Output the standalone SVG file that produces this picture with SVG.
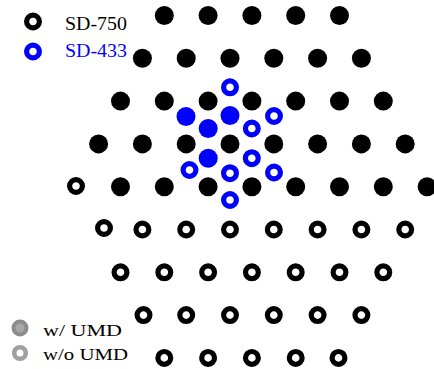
<svg xmlns="http://www.w3.org/2000/svg" width="434" height="369" viewBox="0 0 434 369">
  <style>
    .dot { fill: #000; }
    .ring { fill: none; stroke: #000; stroke-width: 5.2; }
    .bdot { fill: #0000ff; }
    .bring { fill: none; stroke: #0000ff; stroke-width: 5.2; }
    .lbl { font-family: "Liberation Serif", "Times New Roman", serif; }
  </style>
  <defs>
    <circle id="d" r="9.5"/>
    <circle id="o" r="6.4"/>
  </defs>
  <rect width="434" height="369" fill="#fff"/>

  <!-- SD-750 lattice: filled sites -->
  <g id="sd750-filled" class="dot">
    <use href="#d" x="164.3" y="15.5"/><use href="#d" x="208.1" y="15.5"/><use href="#d" x="251.9" y="15.5"/><use href="#d" x="295.7" y="15.5"/><use href="#d" x="339.5" y="15.5"/>
    <use href="#d" x="142.4" y="58.3"/><use href="#d" x="186.2" y="58.3"/><use href="#d" x="230" y="58.3"/><use href="#d" x="273.8" y="58.3"/><use href="#d" x="317.6" y="58.3"/><use href="#d" x="361.4" y="58.3"/>
    <use href="#d" x="120.5" y="101.1"/><use href="#d" x="164.3" y="101.1"/><use href="#d" x="208.1" y="101.1"/><use href="#d" x="251.9" y="101.1"/><use href="#d" x="295.7" y="101.1"/><use href="#d" x="339.5" y="101.1"/><use href="#d" x="383.3" y="101.1"/>
    <use href="#d" x="98.6" y="143.9"/><use href="#d" x="142.4" y="143.9"/><use href="#d" x="186.2" y="143.9"/><use href="#d" x="230" y="143.9"/><use href="#d" x="273.8" y="143.9"/><use href="#d" x="317.6" y="143.9"/><use href="#d" x="361.4" y="143.9"/><use href="#d" x="405.2" y="143.9"/>
    <use href="#d" x="120.5" y="186.7"/><use href="#d" x="164.3" y="186.7"/><use href="#d" x="208.1" y="186.7"/><use href="#d" x="251.9" y="186.7"/><use href="#d" x="295.7" y="186.7"/><use href="#d" x="339.5" y="186.7"/><use href="#d" x="383.3" y="186.7"/><use href="#d" x="427.1" y="186.7"/>
  </g>

  <!-- SD-750 lattice: open sites -->
  <g id="sd750-open" class="ring">
    <use href="#o" x="76" y="186"/>
    <use href="#o" x="104" y="228"/><use href="#o" x="142.4" y="229.5"/><use href="#o" x="186.2" y="229.5"/><use href="#o" x="230" y="229.5"/><use href="#o" x="273.8" y="229.5"/><use href="#o" x="317.6" y="229.5"/><use href="#o" x="361.4" y="229.5"/><use href="#o" x="405.2" y="229.5"/>
    <use href="#o" x="120.5" y="272.3"/><use href="#o" x="164.3" y="272.3"/><use href="#o" x="208.1" y="272.3"/><use href="#o" x="251.9" y="272.3"/><use href="#o" x="295.7" y="272.3"/><use href="#o" x="339.5" y="272.3"/><use href="#o" x="383.3" y="272.3"/>
    <use href="#o" x="143.5" y="315.1"/><use href="#o" x="186.2" y="315.1"/><use href="#o" x="230" y="315.1"/><use href="#o" x="273.8" y="315.1"/><use href="#o" x="317.6" y="315.1"/><use href="#o" x="361.4" y="315.1"/>
    <use href="#o" x="164.3" y="357.9"/><use href="#o" x="208.1" y="357.9"/><use href="#o" x="251.9" y="357.9"/><use href="#o" x="295.7" y="357.9"/><use href="#o" x="338.5" y="357.9"/>
  </g>

  <!-- SD-433 lattice -->
  <g id="sd433-filled" class="bdot">
    <use href="#d" x="186" y="116.5"/><use href="#d" x="230" y="115.5"/><use href="#d" x="208.2" y="128.5"/><use href="#d" x="208.2" y="158.2"/>
  </g>
  <g id="sd433-open" class="bring">
    <use href="#o" x="230" y="87.3"/><use href="#o" x="274" y="116"/><use href="#o" x="251.8" y="128.5"/><use href="#o" x="251.8" y="158.2"/>
    <use href="#o" x="189.5" y="170"/><use href="#o" x="230" y="173.2"/><use href="#o" x="274" y="172.5"/><use href="#o" x="230" y="200"/>
  </g>

  <!-- legend: lattices -->
  <g id="legend-sd750">
    <use href="#o" x="33" y="21.5" class="ring"/>
    <text class="lbl" x="65" y="30" font-size="19" textLength="62" lengthAdjust="spacingAndGlyphs">SD-750</text>
  </g>
  <g id="legend-sd433">
    <use href="#o" x="33" y="51.5" class="bring"/>
    <text class="lbl" x="65" y="57.3" font-size="19" fill="#0000ff" textLength="62" lengthAdjust="spacingAndGlyphs">SD-433</text>
  </g>

  <!-- legend: UMD -->
  <g id="legend-umd">
    <circle cx="20" cy="328" r="6.5" fill="#a8a8a8" stroke="#8c8c8c" stroke-width="4"/>
    <text class="lbl" x="43" y="335.5" font-size="17" textLength="79" lengthAdjust="spacingAndGlyphs">w/ UMD</text>
  </g>
  <g id="legend-no-umd">
    <circle cx="20" cy="353" r="5.8" fill="none" stroke="#a0a0a0" stroke-width="4.6"/>
    <text class="lbl" x="43" y="360" font-size="17" textLength="85" lengthAdjust="spacingAndGlyphs">w/o UMD</text>
  </g>
</svg>
